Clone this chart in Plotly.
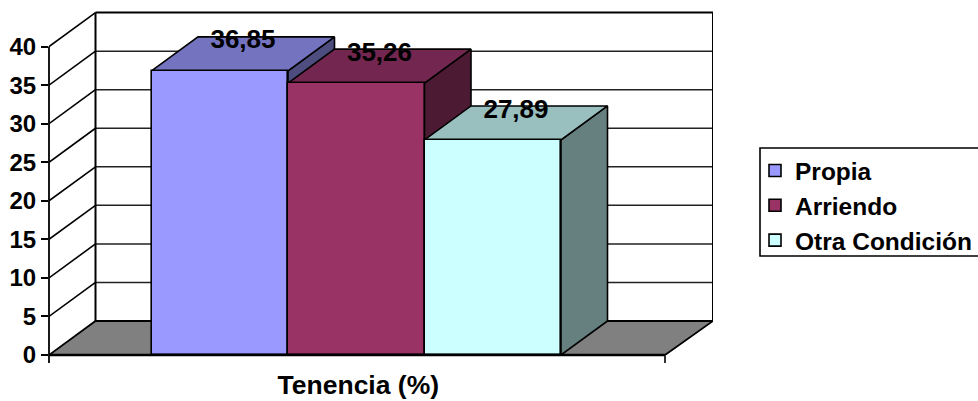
import plotly.graph_objects as go

series = ["Propia", "Arriendo", "Otra Condición"]
values = [36.85, 35.26, 27.89]
value_labels = ["36,85", "35,26", "27,89"]
front_colors = ["#9999FF", "#993366", "#CCFFFF"]
top_colors = ["#7373BF", "#732650", "#99BFBF"]
side_colors = ["#4D4D80", "#4D1A33", "#668080"]
category_label = "Tenencia (%)"
y_ticks = [0, 5, 10, 15, 20, 25, 30, 35, 40]

W, H = 978, 401
FONT = "Liberation Sans, Arial, sans-serif"

# pixel geometry of the plot box
PX_LEFT, PX_RIGHT, PX_BOTTOM, PX_TOP = 49, 713, 355, 5
BAR_PX, Y_PX = 136.5, 7.71
BAR0_CENTER = 219.75
xmin = (PX_LEFT - BAR0_CENTER) / BAR_PX
xmax = (PX_RIGHT - BAR0_CENTER) / BAR_PX
ymax = (PX_BOTTOM - PX_TOP) / Y_PX
DX = 46.5 / BAR_PX      # depth offset in x units
DY = 34.0 / Y_PX        # depth offset in y units
FRONT_RIGHT = (665 - BAR0_CENTER) / BAR_PX


def path(points):
    return "M" + " L".join(f"{x},{y}" for x, y in points) + " Z"


def poly(points, color, lw=1.6):
    return go.Scatter(
        x=[p[0] for p in points] + [points[0][0]],
        y=[p[1] for p in points] + [points[0][1]],
        mode="lines", fill="toself", fillcolor=color,
        line=dict(color="black", width=lw),
        showlegend=False, hoverinfo="skip", xaxis="x", yaxis="y",
    )


fig = go.Figure()
shapes = []


def add_line(x0, y0, x1, y1, color="black", width=1.6):
    shapes.append(dict(type="line", layer="below", xref="x", yref="y",
                       x0=x0, y0=y0, x1=x1, y1=y1,
                       line=dict(color=color, width=width)))


def paper_line(x0, y0, x1, y1, width=2):
    shapes.append(dict(type="line", layer="above", xref="paper", yref="paper",
                       x0=x0, y0=y0, x1=x1, y1=y1,
                       line=dict(color="black", width=width)))


# floor
shapes.append(dict(type="path", layer="below", xref="x", yref="y",
                   path=path([(xmin, 0), (xmin + DX, DY), (xmax, DY), (FRONT_RIGHT, 0)]),
                   fillcolor="#808080", line=dict(color="black", width=1.8)))
# grid lines over side wall and back wall
for t in y_ticks[1:]:
    add_line(xmin, t, xmin + DX, t + DY)
    if t < y_ticks[-1]:
        add_line(xmin + DX, t + DY, xmax, t + DY, color="#222222", width=1.5)
# wall frame
add_line(xmin + DX, DY, xmin + DX, y_ticks[-1] + DY, width=2)
add_line(xmin + DX, y_ticks[-1] + DY, xmax, y_ticks[-1] + DY, width=2)
add_line(xmax, DY, xmax, y_ticks[-1] + DY, width=2)

# front axis lines and end ticks, placed on the paper so they are not clipped
tick_depth = 8 / (PX_BOTTOM - PX_TOP)
front_right_paper = (FRONT_RIGHT - xmin) / (xmax - xmin)
paper_line(0, -tick_depth, 0, y_ticks[-1] / ymax, width=1.8)
paper_line(0, 0, front_right_paper, 0, width=2.4)
paper_line(front_right_paper, -tick_depth, front_right_paper, 0, width=1.6)

# legend frame (runs off the right edge of the page, as in the reference)
px_x = lambda p: (p - PX_LEFT) / (PX_RIGHT - PX_LEFT)
px_y = lambda p: (PX_BOTTOM - p) / (PX_BOTTOM - PX_TOP)
shapes.append(dict(type="rect", layer="above", xref="paper", yref="paper",
                   x0=px_x(760), x1=px_x(990), y0=px_y(256), y1=px_y(148),
                   fillcolor="rgba(0,0,0,0)", line=dict(color="black", width=1.6)))

# depth faces, left to right, in the base subplot
for i, v in enumerate(values):
    l, r = i - 0.5, i + 0.5
    fig.add_trace(poly([(r, 0), (r + DX, DY), (r + DX, v + DY), (r, v)], side_colors[i]))
    fig.add_trace(poly([(l, v), (l + DX, v + DY), (r + DX, v + DY), (r, v)], top_colors[i]))

# front faces in the overlay subplot
for i, v in enumerate(values):
    fig.add_trace(go.Bar(
        x=[i], y=[v], width=1, name=series[i], xaxis="x2", yaxis="y2",
        marker=dict(color=front_colors[i], line=dict(color="black", width=1.6)),
        hoverinfo="skip",
    ))

fig.add_trace(go.Scatter(
    x=[i + DX / 2 for i in range(len(values))],
    y=[v + 0.85 * DY for v in values],
    text=value_labels, mode="text", textposition="middle center",
    textfont=dict(family=FONT, size=26, color="black", weight="bold"),
    showlegend=False, hoverinfo="skip", xaxis="x2", yaxis="y2",
))

fig.update_layout(
    width=W, height=H, autosize=False,
    paper_bgcolor="white", plot_bgcolor="white",
    margin=dict(l=PX_LEFT, r=W - PX_RIGHT, t=PX_TOP, b=H - PX_BOTTOM, pad=0, autoexpand=False),
    barmode="overlay", bargap=0,
    shapes=shapes,
    font=dict(family=FONT, color="black"),
    xaxis=dict(range=[xmin, xmax], tickmode="array", tickvals=[1.015], ticktext=[f"<b>{category_label}</b>"],
               ticks="outside", ticklen=6, tickcolor="rgba(0,0,0,0)",
               showgrid=False, zeroline=False, showline=False,
               tickfont=dict(family=FONT, size=26.5, color="black")),
    yaxis=dict(range=[0, ymax], tickmode="array", tickvals=y_ticks,
               ticktext=[f"<b>{t}</b>" for t in y_ticks],
               ticks="outside", ticklen=7, tickwidth=1.6, tickcolor="black",
               showgrid=False, zeroline=False, showline=False,
               tickfont=dict(family=FONT, size=24, color="black")),
    xaxis2=dict(range=[xmin, xmax], overlaying="x", visible=False),
    yaxis2=dict(range=[0, ymax], overlaying="y", visible=False),
    legend=dict(x=755 / W, xref="container", y=1 - 148 / H, yref="container",
                xanchor="left", yanchor="top", traceorder="normal",
                bgcolor="rgba(0,0,0,0)", borderwidth=0,
                font=dict(family=FONT, size=24.5, color="black", weight="bold"),
                itemclick=False, itemdoubleclick=False),
)

fig.write_html("out.html", config={"displayModeBar": False},
               post_script="document.body.style.margin='0';")
